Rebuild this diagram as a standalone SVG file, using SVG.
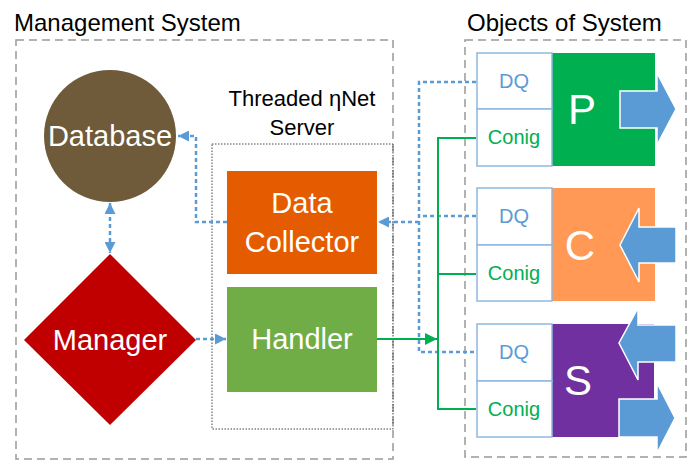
<svg xmlns="http://www.w3.org/2000/svg" width="692" height="461" viewBox="0 0 692 461">
<defs>
<marker id="ab" viewBox="0 0 10 10" refX="10" refY="5" markerWidth="11" markerHeight="11" markerUnits="userSpaceOnUse" orient="auto-start-reverse"><path d="M0,0 L10,5 L0,10 z" fill="#5B9BD5"/></marker>
<marker id="ag" viewBox="0 0 10 10" refX="10" refY="5" markerWidth="12" markerHeight="12" markerUnits="userSpaceOnUse" orient="auto"><path d="M0,0 L10,5 L0,10 z" fill="#00B050"/></marker>
</defs>
<style>
text{font-family:"Liberation Sans",Arial,sans-serif}
.title{font-size:24px;fill:#000}
.big{font-size:29px;fill:#fff;text-anchor:middle}
.dq{font-size:20px;fill:#5B9BD5;text-anchor:middle}
.cg{font-size:20px;fill:#00B050;text-anchor:middle}
.cell{fill:#fff;stroke:#8FB8E0;stroke-width:1.5}
.letter{font-size:42px;fill:#fff;text-anchor:middle}
.arr{fill:#5B9BD5;stroke:#fff;stroke-width:1.5}
.blue{fill:none;stroke:#5B9BD5;stroke-width:2.5;stroke-dasharray:4 3}
.green{fill:none;stroke:#00B050;stroke-width:2}
.frame{fill:none;stroke:#999;stroke-width:1.5;stroke-dasharray:8 5}
</style>
<rect width="692" height="461" fill="#fff"/>
<g id="management-system">
<rect class="frame" x="16" y="40" width="377" height="419"/>
<text class="title" x="14" y="31">Management System</text>
</g>
<g id="objects-of-system">
<rect class="frame" x="465" y="40" width="221" height="417"/>
<text class="title" x="467" y="31">Objects of System</text>
</g>
<g id="server">
<rect x="212" y="144" width="181" height="285" fill="none" stroke="#444" stroke-width="1" stroke-dasharray="1.5 1.5"/>
<text x="302" y="106" font-size="22" text-anchor="middle">Threaded ηNet</text>
<text x="302" y="135" font-size="22" text-anchor="middle">Server</text>
</g>
<g id="database">
<circle cx="110" cy="136" r="66" fill="#6F5B3A"/>
<text class="big" x="110" y="146" font-size="28">Database</text>
</g>
<g id="manager">
<polygon points="110,254 196,340 110,425 24,340" fill="#C00000"/>
<text class="big" x="110" y="350">Manager</text>
</g>
<g id="data-collector">
<rect x="227" y="171" width="150" height="103" fill="#E55B00"/>
<text class="big" x="302" y="213">Data</text>
<text class="big" x="302" y="252">Collector</text>
</g>
<g id="handler">
<rect x="227" y="287" width="150" height="105" fill="#70AD47"/>
<text class="big" x="302" y="349">Handler</text>
</g>
<g id="connectors">
<path class="blue" d="M227,222 H196 V136 H178" marker-end="url(#ab)"/>
<path class="blue" d="M110,203 V253" marker-start="url(#ab)" marker-end="url(#ab)"/>
<path class="blue" d="M196,339 H226" marker-end="url(#ab)"/>
<path class="blue" d="M476,82 H419 V352 H476"/>
<path class="blue" d="M476,216 H419"/>
<path class="blue" d="M419,222 H378" marker-end="url(#ab)"/>
<path class="green" d="M476,138 H438 V409 H476"/>
<path class="green" d="M438,274 H476"/>
<path class="green" d="M377,339 H437" marker-end="url(#ag)"/>
</g>
<g id="object-p">
<rect x="552" y="53" width="103" height="113" fill="#00B050"/>
<rect class="cell" x="477" y="53" width="75" height="56"/>
<rect class="cell" x="477" y="109" width="75" height="57"/>
<text class="dq" x="514" y="88">DQ</text>
<text class="cg" x="514" y="144">Conig</text>
<text class="letter" x="582" y="124">P</text>
<polygon class="arr" points="620,91 657,91 657,73 676,109 657,145 657,128 620,128"/>
</g>
<g id="object-c">
<rect x="552" y="188" width="103" height="113" fill="#FF9955"/>
<rect class="cell" x="477" y="188" width="75" height="57"/>
<rect class="cell" x="477" y="245" width="75" height="56"/>
<text class="dq" x="514" y="223">DQ</text>
<text class="cg" x="514" y="280">Conig</text>
<text class="letter" x="580" y="260">C</text>
<polygon class="arr" points="676,227 639,227 639,208 620,245 639,282 639,263 676,263"/>
</g>
<g id="object-s">
<rect x="552" y="324" width="102" height="113" fill="#7030A0"/>
<rect class="cell" x="477" y="324" width="75" height="57"/>
<rect class="cell" x="477" y="381" width="75" height="56"/>
<text class="dq" x="514" y="359">DQ</text>
<text class="cg" x="514" y="416">Conig</text>
<text class="letter" x="578" y="395">S</text>
<polygon class="arr" points="676,325 638,325 638,308 619,343 638,380 638,362 676,362"/>
<polygon class="arr" points="619,399 657,399 657,383 675,418 657,453 657,437 619,437"/>
</g>
</svg>
